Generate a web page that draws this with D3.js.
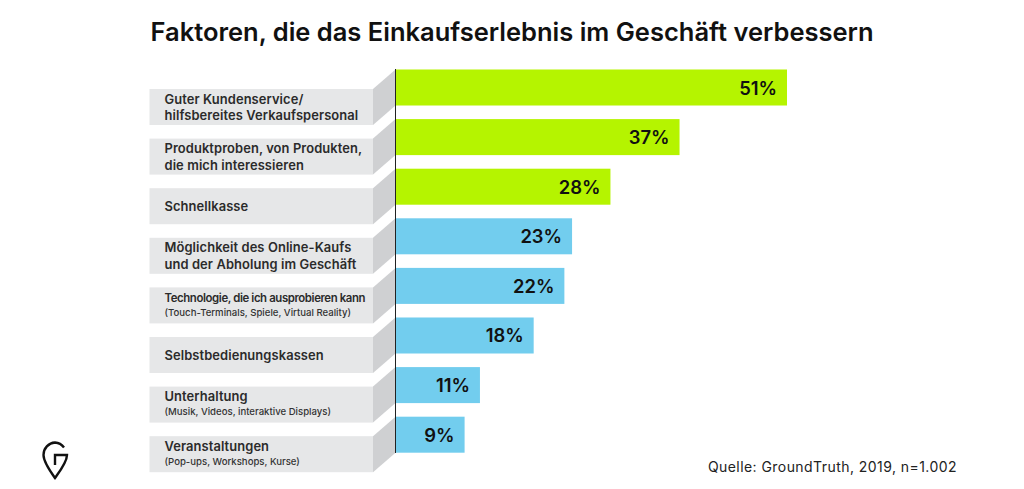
<!DOCTYPE html>
<html>
<head>
<meta charset="utf-8">
<style>
	body { margin: 0; background: #fff; }
	svg { display: block; font-family: Inter, Roboto, sans-serif; }
</style>
<script src="https://cdn.jsdelivr.net/npm/d3@7"></script>
</head>
<body>
<svg id="chart" width="1024" height="489"></svg>
<script>
var titleText = 'Faktoren, die das Einkaufserlebnis im Geschäft verbessern';
var sourceText = 'Quelle: GroundTruth, 2019, n=1.002';

var categories = ['kundenservice', 'produktproben', 'schnellkasse', 'online', 'technologie', 'selbstbedienung', 'unterhaltung', 'veranstaltungen'];
var values = [51, 37, 28, 23, 22, 18, 11, 9];
var mainLabels = [
	['Guter Kundenservice/', 'hilfsbereites Verkaufspersonal'],
	['Produktproben, von Produkten,', 'die mich interessieren'],
	['Schnellkasse'],
	['Möglichkeit des Online-Kaufs', 'und der Abholung im Geschäft'],
	['Technologie, die ich ausprobieren kann'],
	['Selbstbedienungskassen'],
	['Unterhaltung'],
	['Veranstaltungen']
];
var subLabels = ['', '', '', '', '(Touch-Terminals, Spiele, Virtual Reality)', '', '(Musik, Videos, interaktive Displays)', '(Pop-ups, Workshops, Kurse)'];
var groups = ['top', 'top', 'top', 'rest', 'rest', 'rest', 'rest', 'rest'];

var svg = d3.select('#chart');

var x = d3.scaleLinear().domain([0, 51]).range([395.5, 787]);
var y = d3.scaleBand().domain(categories).range([69.5, 452.7]).paddingInner(0.274).paddingOuter(0);
var color = d3.scaleOrdinal().domain(['top', 'rest']).range(['#b5f400', '#72cdee']);

var labelLeft = 149.5, labelRight = 373, drop = 19.5;

svg.append('text')
	.attr('x', 150.5)
	.attr('y', 41)
	.attr('font-size', 25.5)
	.attr('font-weight', 600)
	.attr('fill', '#111')
	.text(titleText);

var rows = svg.selectAll('.row').data(categories).enter()
	.append('g')
	.attr('class', 'row');

// grey side face, runs up from the label to the axis
rows.append('path')
	.attr('fill', '#cfd0d2')
	.attr('d', function(d) {
		var t = y(d), h = y.bandwidth();
		return 'M' + labelRight + ',' + (t + drop) + 'L' + x(0) + ',' + t + 'V' + (t + h) + 'L' + labelRight + ',' + (t + h + drop) + 'Z';
	});

rows.append('rect')
	.attr('x', labelLeft)
	.attr('width', labelRight - labelLeft)
	.attr('y', function(d) { return y(d) + drop; })
	.attr('height', y.bandwidth())
	.attr('fill', '#e6e7e8');

rows.append('rect')
	.attr('x', x(0))
	.attr('y', function(d) { return y(d); })
	.attr('height', y.bandwidth())
	.attr('width', function(d, i) { return x(values[i]) - x(0); })
	.attr('fill', function(d, i) { return color(groups[i]); });

rows.append('text')
	.attr('x', function(d, i) { return x(values[i]) - 10; })
	.attr('y', function(d) { return y(d) + y.bandwidth() / 2 + 7; })
	.attr('text-anchor', 'end')
	.attr('font-size', 18.4)
	.attr('font-weight', 600)
	.attr('fill', '#111')
	.text(function(d, i) { return values[i] + '%'; });

// label text, one or two lines, small line below where there is one
rows.each(function(d, i) {
	var mid = y(d) + drop + y.bandwidth() / 2;
	var g = d3.select(this);
	var lines = mainLabels[i];
	var tight = lines[0].length > 32 && subLabels[i];
	var firstY = subLabels[i] ? mid - 3.5 : (lines.length === 2 ? mid - 3.5 : mid + 5);
	lines.forEach(function(line, j) {
		g.append('text')
			.attr('x', 164.5)
			.attr('y', firstY + j * 16.5)
			.attr('font-size', tight ? 11.4 : 12.9)
			.attr('font-weight', 600)
			.attr('letter-spacing', tight ? -0.4 : 0.1)
			.attr('fill', '#2b2b2b')
			.text(line);
	});
	if (subLabels[i]) {
		g.append('text')
			.attr('x', 164.5)
			.attr('y', mid + 10.5)
			.attr('font-size', 9.6)
			.attr('font-weight', 500)
			.attr('fill', '#333')
			.text(subLabels[i]);
	}
});

svg.append('line')
	.attr('x1', x(0)).attr('x2', x(0))
	.attr('y1', 69).attr('y2', 453)
	.attr('stroke', '#222')
	.attr('stroke-width', 1);

svg.append('text')
	.attr('x', 957)
	.attr('y', 472)
	.attr('text-anchor', 'end')
	.attr('font-size', 14)
	.attr('letter-spacing', 0.44)
	.attr('fill', '#222')
	.text(sourceText);

// logo
svg.append('path')
	.attr('d', 'M64,447.5A12,12.5 0 0 0 55,442.5A12,12.5 0 0 0 43.5,455C43.5,462 50,471 55,478C60,471 67,462 67,455H55V465')
	.attr('fill', 'none')
	.attr('stroke', '#111')
	.attr('stroke-width', 2.4);
</script>
</body>
</html>
